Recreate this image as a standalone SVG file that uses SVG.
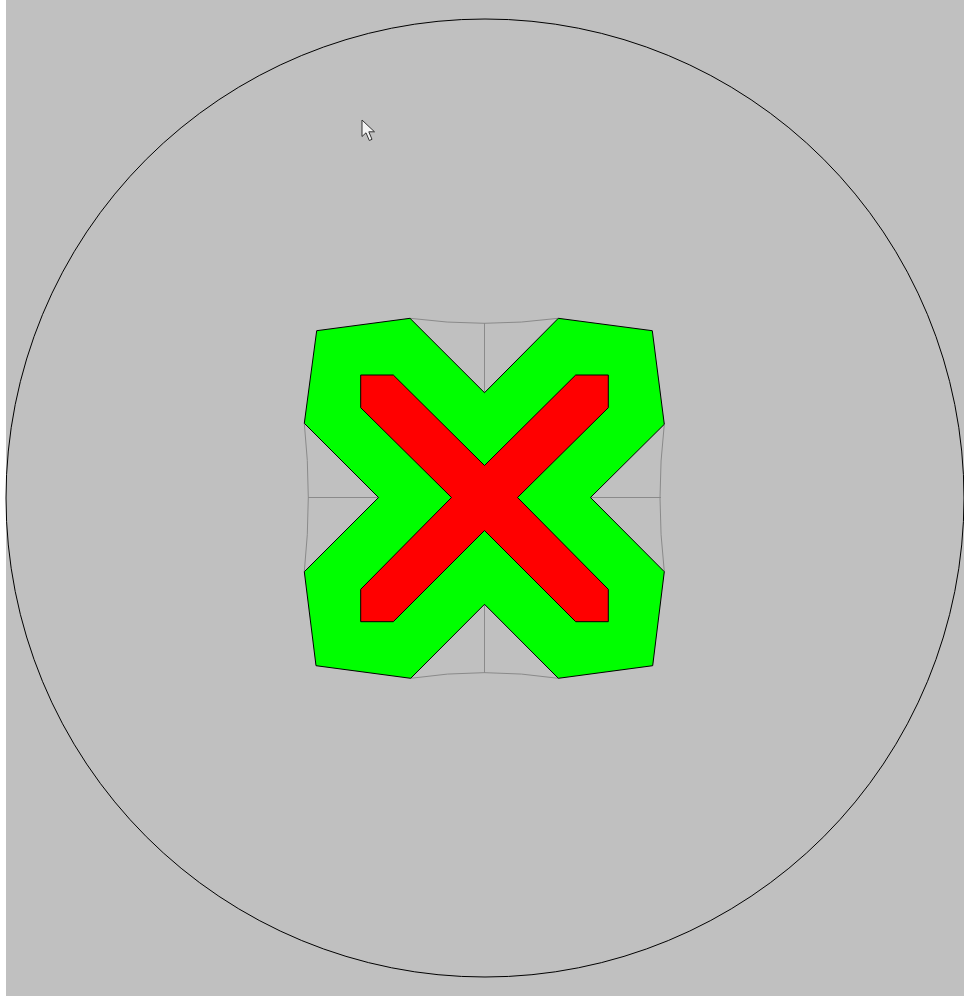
<svg xmlns="http://www.w3.org/2000/svg" width="964" height="997" viewBox="0 0 964 997">
<style>
.grid{fill:none;stroke:#8a8a8a;stroke-width:1}
.shape{stroke:#000;stroke-width:1;stroke-linejoin:miter}
</style>
<rect x="0" y="0" width="964" height="997" fill="#ffffff"/>
<rect x="6" y="0" width="958" height="996" fill="#c0c0c0"/>
<circle cx="485" cy="498" r="479" fill="none" stroke="#000" stroke-width="1"/>
<g id="grid">
<path class="grid" d="M410,318.3 Q484.5,328.3 558.3,318.3"/>
<path class="grid" d="M410.7,678.3 Q484.5,667 558.3,678.3"/>
<path class="grid" d="M304.3,423.3 Q312.3,497.5 304.3,571.7"/>
<path class="grid" d="M664.3,424.3 Q655.7,497.5 664.3,571.7"/>
<path class="grid" d="M484.5,323 V393 M484.5,604 V673 M308,497.5 H379 M590,497.5 H661"/>
</g>
<g id="green">
<polygon class="shape" fill="#00ff00" points="316.7,330.7 410,318.3 484.5,392.7 558.3,318.3 652.3,330.7 664.3,424.3 590.5,497.5 664.3,571.7 652.7,665.7 558.3,678.3 484.5,604.3 410.7,678.3 316,665.7 304.3,571.7 378.5,497.5 304.3,423.3"/>
</g>
<g id="red">
<polygon class="shape" fill="#ff0000" points="360.7,375 393.3,375 484.5,465.5 575.7,375 608.3,375 608.3,407.7 517.5,497.5 608.3,589.3 608.3,621.7 575.7,621.7 484.5,530.5 393.3,621.7 360.7,621.7 360.7,589.3 451.5,497.5 360.7,407.7"/>
</g>
<g id="cursor">
<polygon points="362,120 362,136.5 366,132.8 369.3,140.5 372,139.3 368.8,131.8 374.5,131.8" fill="#f4f4f4" stroke="#333" stroke-width="1" stroke-linejoin="round"/>
</g>
</svg>
